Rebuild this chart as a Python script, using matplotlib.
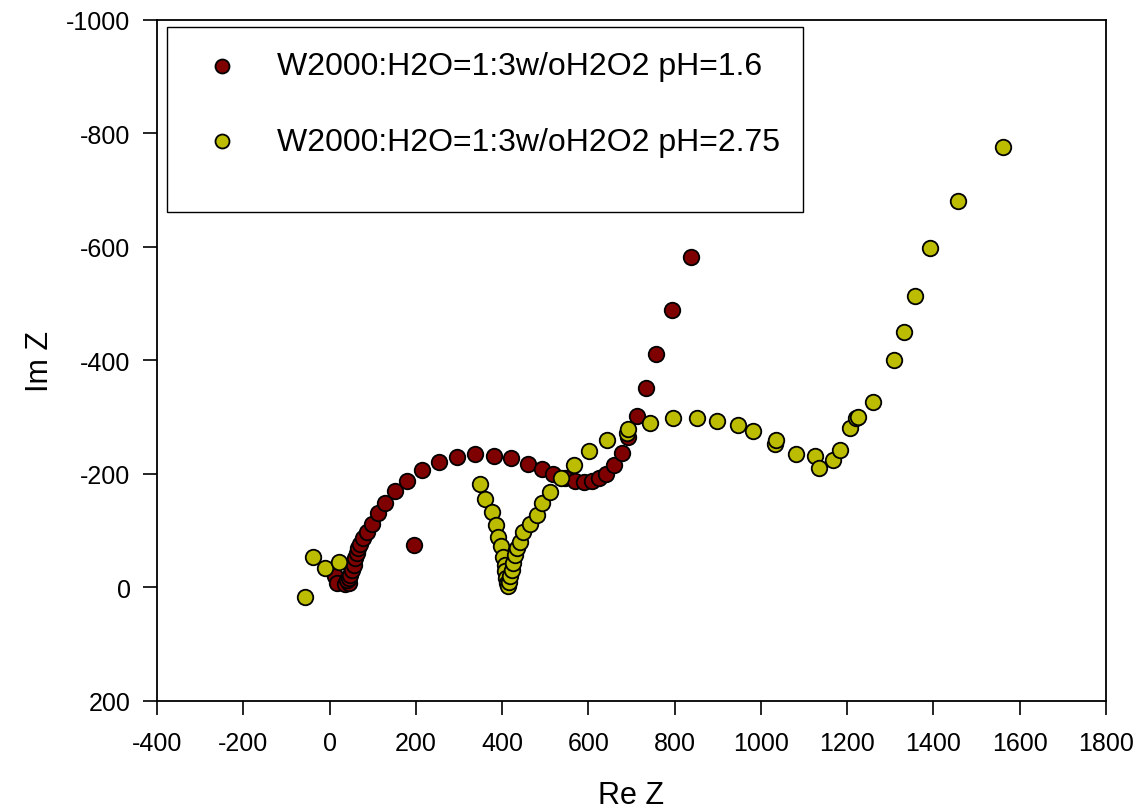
import matplotlib as mpl
mpl.use('Agg')
import matplotlib.pyplot as plt
from matplotlib.patches import Rectangle

plt.rcParams['font.family'] = ['Liberation Sans', 'DejaVu Sans']
plt.rcParams['axes.unicode_minus'] = False

# pH = 1.6
re1 = [13, 17, 36, 44, 40, 44, 48, 52, 56, 59, 63, 67, 71, 78, 86, 98, 112, 128, 151,
       179, 214, 253, 295, 337, 381, 420, 459, 492, 519, 545, 568, 589, 608, 624, 642,
       659, 677, 693, 712, 733, 758, 793, 839, 195]
im1 = [-19, -7, -5, -7, -12, -16, -22, -30, -39, -51, -60, -69, -77, -86, -98, -112, -130, -148, -169,
       -188, -207, -221, -230, -234, -232, -227, -218, -209, -200, -193, -188, -186, -188, -193, -200,
       -216, -237, -264, -302, -351, -411, -489, -582, -75]

# pH = 2.75
re2 = [-56, -39, -10, 21,
       349, 360, 376, 387, 391, 397, 403, 407, 407, 408, 411, 413,
       416, 418, 422, 426, 430, 434, 441, 449, 465, 480, 492,
       512, 536, 567, 602, 644, 689, 691, 743, 797, 851, 899, 946, 981,
       1032, 1034, 1082, 1126, 1134, 1167, 1184, 1206, 1221, 1226, 1260,
       1308, 1331, 1358, 1393, 1457, 1561]
im2 = [18, -54, -33, -45,
       -182, -156, -133, -110, -89, -72, -54, -39, -28, -16, -7, -3,
       -10, -19, -30, -42, -57, -69, -80, -98, -112, -127, -148,
       -168, -192, -215, -240, -259, -272, -278, -289, -298, -299, -293, -286, -276,
       -253, -260, -234, -231, -210, -225, -241, -281, -298, -300, -326,
       -401, -449, -514, -598, -680, -775]

labels = ['W2000:H2O=1:3w/oH2O2 pH=1.6', 'W2000:H2O=1:3w/oH2O2 pH=2.75']
colors = ['#7f0000', '#bcbc00']

fig = plt.figure(figsize=(11.45, 8.12), dpi=100)
ax = fig.add_axes([0.1371, 0.1358, 0.8288, 0.8387])

ax.scatter(re1, im1, s=125, c=colors[0], edgecolors='black', linewidths=1.3, label=labels[0], zorder=3)
ax.scatter(re2, im2, s=125, c=colors[1], edgecolors='black', linewidths=1.3, label=labels[1], zorder=4)

ax.set_xlim(-400, 1800)
ax.set_ylim(200, -1000)
ax.set_xticks(range(-400, 1801, 200))
ax.set_yticks(range(-1000, 201, 200))
ax.tick_params(direction='out', length=10, width=1.2, labelsize=18, top=False, right=False)
ax.tick_params(axis='x', pad=12)
ax.tick_params(axis='y', pad=9)
for sp in ax.spines.values():
    sp.set_linewidth(1.3)

ax.set_xlabel('Re Z', fontsize=22, labelpad=18)
ax.set_ylabel('Im Z', fontsize=22, labelpad=8)

# legend frame drawn separately so it keeps the empty space at the bottom
ax.add_patch(Rectangle((0.0105, 0.7176), 0.6705, 0.2714, transform=ax.transAxes,
                       fill=False, edgecolor='black', linewidth=1.0, zorder=5))
ax.legend(loc='upper left', bbox_to_anchor=(0.0214, 0.9725), frameon=False, fontsize=23,
          markerscale=0.9, handlelength=2.0, handletextpad=0.72, labelspacing=1.42,
          borderaxespad=0)

fig.savefig('out.png', dpi=100)
